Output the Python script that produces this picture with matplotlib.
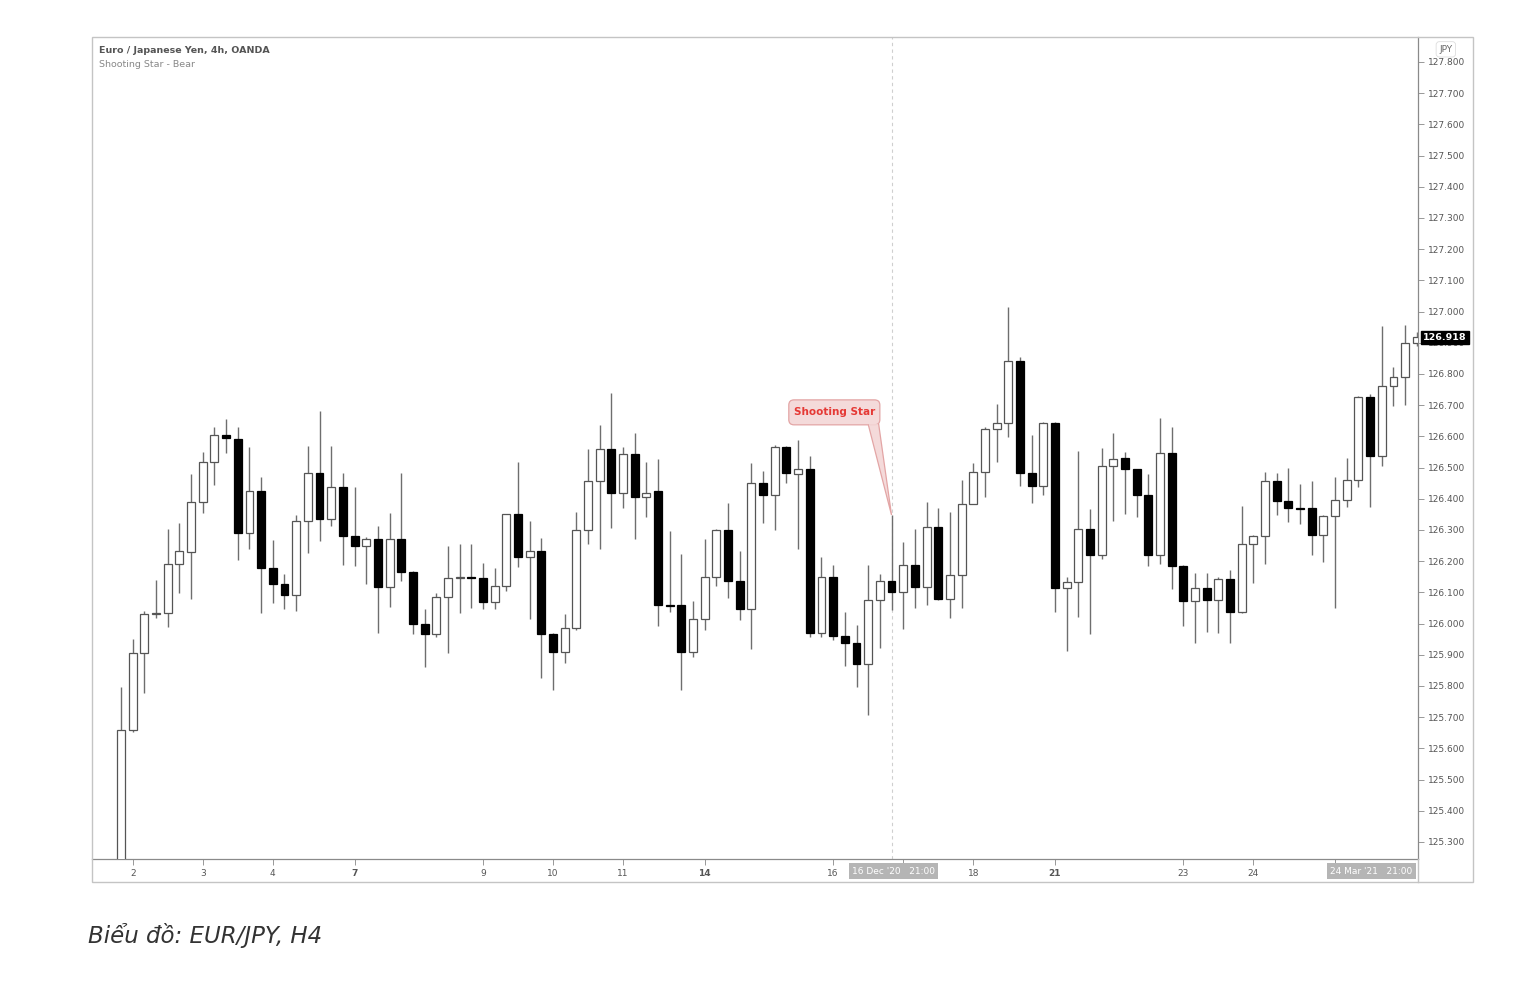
import matplotlib
matplotlib.use("Agg")
import matplotlib.pyplot as plt
import matplotlib.transforms as mtransforms
from matplotlib.patches import Rectangle, FancyBboxPatch, Polygon
import numpy as np

# EUR/JPY 4h candles (open, high, low, close)
opens = [125.20, 125.659, 125.905, 126.030, 126.035, 126.190, 126.230, 126.391, 126.517, 126.605,
         126.592, 126.289, 126.425, 126.179, 126.127, 126.091, 126.328, 126.484, 126.334, 126.437,
         126.282, 126.249, 126.271, 126.118, 126.270, 126.166, 125.999, 125.967, 126.084, 126.145,
         126.150, 126.147, 126.070, 126.121, 126.350, 126.212, 126.234, 125.967, 125.910, 125.985,
         126.300, 126.458, 126.559, 126.418, 126.544, 126.405, 126.425, 126.060, 126.060, 125.910,
         126.015, 126.148, 126.300, 126.137, 126.048, 126.450, 126.412, 126.567, 126.480, 126.495,
         125.971, 126.148, 125.960, 125.937, 125.871, 126.076, 126.137, 126.101, 126.188, 126.116,
         126.309, 126.078, 126.156, 126.383, 126.485, 126.623, 126.644, 126.843, 126.484, 126.442,
         126.642, 126.113, 126.134, 126.302, 126.220, 126.505, 126.530, 126.496, 126.413, 126.221,
         126.548, 126.185, 126.073, 126.113, 126.076, 126.142, 126.038, 126.254, 126.281, 126.458,
         126.393, 126.370, 126.370, 126.284, 126.345, 126.396, 126.460, 126.727, 126.537, 126.762,
         126.789, 126.898]
highs = [125.797, 125.951, 126.041, 126.140, 126.303, 126.323, 126.479, 126.549, 126.629, 126.655,
         126.631, 126.565, 126.469, 126.268, 126.159, 126.348, 126.569, 126.682, 126.569, 126.482,
         126.437, 126.279, 126.313, 126.356, 126.484, 126.170, 126.046, 126.099, 126.249, 126.255,
         126.255, 126.193, 126.179, 126.352, 126.519, 126.329, 126.273, 125.970, 126.030, 126.359,
         126.559, 126.637, 126.740, 126.565, 126.612, 126.519, 126.527, 126.298, 126.222, 126.073,
         126.271, 126.302, 126.388, 126.234, 126.514, 126.490, 126.572, 126.570, 126.588, 126.537,
         126.214, 126.188, 126.038, 125.996, 126.188, 126.159, 126.348, 126.262, 126.302, 126.391,
         126.370, 126.359, 126.460, 126.516, 126.631, 126.704, 127.014, 126.856, 126.604, 126.645,
         126.645, 126.150, 126.554, 126.366, 126.562, 126.612, 126.551, 126.497, 126.479, 126.658,
         126.629, 126.188, 126.163, 126.163, 126.148, 126.172, 126.377, 126.283, 126.487, 126.482,
         126.500, 126.446, 126.458, 126.347, 126.469, 126.530, 126.730, 126.736, 126.954, 126.821,
         126.957, 126.935]
lows = [125.18, 125.653, 125.777, 126.017, 125.990, 126.097, 126.078, 126.353, 126.444, 126.548,
        126.204, 126.239, 126.033, 126.065, 126.046, 126.041, 126.225, 126.266, 126.313, 126.188,
        126.185, 126.126, 125.971, 126.052, 126.137, 125.967, 125.862, 125.956, 125.905, 126.035,
        126.049, 126.046, 126.046, 126.106, 126.182, 126.014, 125.827, 125.787, 125.873, 125.979,
        126.254, 126.238, 126.306, 126.370, 126.270, 126.343, 125.992, 126.036, 125.787, 125.892,
        125.979, 126.121, 126.083, 126.012, 125.918, 126.323, 126.300, 126.452, 126.238, 125.958,
        125.958, 125.947, 125.864, 125.796, 125.707, 125.921, 126.044, 125.982, 126.049, 126.060,
        126.075, 126.017, 126.049, 126.405, 126.405, 126.519, 126.599, 126.441, 126.386, 126.412,
        126.038, 125.913, 126.020, 125.967, 126.206, 126.330, 126.350, 126.341, 126.185, 126.191,
        126.110, 125.992, 125.939, 125.974, 125.971, 125.939, 126.035, 126.129, 126.191, 126.348,
        126.327, 126.319, 126.220, 126.198, 126.049, 126.373, 126.439, 126.373, 126.505, 126.697,
        126.701, 126.890]
closes = [125.659, 125.907, 126.030, 126.035, 126.190, 126.233, 126.391, 126.517, 126.604, 126.594,
          126.289, 126.425, 126.177, 126.127, 126.091, 126.328, 126.484, 126.334, 126.437, 126.281,
          126.249, 126.271, 126.118, 126.270, 126.166, 125.999, 125.967, 126.084, 126.145, 126.150,
          126.148, 126.070, 126.121, 126.350, 126.212, 126.233, 125.967, 125.910, 125.985, 126.300,
          126.458, 126.559, 126.418, 126.544, 126.407, 126.420, 126.060, 126.058, 125.910, 126.015,
          126.148, 126.300, 126.137, 126.048, 126.450, 126.412, 126.567, 126.484, 126.495, 125.971,
          126.148, 125.960, 125.937, 125.871, 126.076, 126.137, 126.101, 126.188, 126.116, 126.309,
          126.078, 126.156, 126.383, 126.485, 126.623, 126.644, 126.843, 126.484, 126.442, 126.642,
          126.113, 126.134, 126.302, 126.220, 126.505, 126.529, 126.496, 126.413, 126.221, 126.548,
          126.185, 126.073, 126.113, 126.076, 126.142, 126.038, 126.254, 126.281, 126.458, 126.393,
          126.370, 126.368, 126.284, 126.345, 126.396, 126.460, 126.727, 126.537, 126.762, 126.789,
          126.898, 126.918]

day_ticks = [1, 7, 13, 20, 31, 37, 43, 50, 61, 67, 73, 80, 91, 97, 104]
day_labels = ["2", "3", "4", "7", "9", "10", "11", "14", "16", "17", "18", "21", "23", "24", "25"]
bold_days = ["7", "14", "21"]
price_ticks = np.round(np.arange(125.3, 127.81, 0.1), 1)

star_idx = 66
last_price = 126.918

W, H = 1522, 996
fig = plt.figure(figsize=(W / 100, H / 100), dpi=100)
fig.patch.set_facecolor("white")

# main pane: x 92..1418, y 37..859 px
ax = fig.add_axes([92 / W, 1 - 859 / H, (1418 - 92) / W, (859 - 37) / H])
ax.set_facecolor("white")

x = np.arange(len(opens))
o = np.array(opens)
c = np.array(closes)
up = c >= o

ax.vlines(x, lows, highs, color="#6e6e6e", lw=1.0, zorder=2)
body = np.where(np.abs(c - o) < 0.004, 0.004 * np.where(up, 1, -1), c - o)
ax.bar(x[up], body[up], bottom=o[up], width=0.68, facecolor="white",
       edgecolor="#555555", linewidth=0.9, zorder=3)
ax.bar(x[~up], body[~up], bottom=o[~up], width=0.68, facecolor="black",
       edgecolor="black", linewidth=0.9, zorder=3)

ax.set_xlim(-2.49, 111.1)
ax.set_ylim(125.2455, 127.880)

# crosshair at the shooting star
ax.axvline(star_idx, color="#cfcfcf", lw=0.8, ls=(0, (3, 3)), zorder=1)

# right price scale
ax.yaxis.tick_right()
ax.set_yticks(price_ticks)
ax.set_yticklabels([f"{p:.3f}" for p in price_ticks])
ax.tick_params(axis="y", length=4, width=0.6, color="#888888", labelsize=6.5,
               labelcolor="#555555", pad=3)

# time scale
ax.set_xticks(day_ticks)
ax.set_xticklabels(day_labels)
for lbl in ax.get_xticklabels():
    if lbl.get_text() in bold_days:
        lbl.set_fontweight("bold")
        lbl.set_color("#333333")
ax.tick_params(axis="x", length=4, width=0.6, color="#888888", labelsize=6.5,
               labelcolor="#555555", pad=3)

for side in ["top", "left"]:
    ax.spines[side].set_visible(False)
for side in ["right", "bottom"]:
    ax.spines[side].set_color("#8a8a8a")
    ax.spines[side].set_linewidth(0.9)

# outer frame of the chart
fig.add_artist(Rectangle((92 / W, 1 - 882 / H), (1473 - 92) / W, (882 - 37) / H,
                         transform=fig.transFigure, fill=False,
                         edgecolor="#c4c4c4", lw=1.0))
fig.add_artist(plt.Line2D([1418 / W, 1418 / W], [1 - 882 / H, 1 - 859 / H],
                          transform=fig.transFigure, color="#c4c4c4", lw=1.0))

# headings
ax.text(0.005, 0.983, "Euro / Japanese Yen, 4h, OANDA", transform=ax.transAxes,
        fontsize=6.8, fontweight="bold", color="#555555", va="center", ha="left")
ax.text(0.005, 0.966, "Shooting Star - Bear", transform=ax.transAxes,
        fontsize=6.8, color="#888888", va="center", ha="left")

# currency tag
ax.text(1.021, 0.985, "JPY", transform=ax.transAxes, fontsize=6.5, color="#666666",
        ha="center", va="center",
        bbox=dict(boxstyle="round,pad=0.35", fc="white", ec="#dddddd", lw=0.6))

# last price tag
ax.text(1.004, last_price, f"{last_price:.3f}",
        transform=mtransforms.blended_transform_factory(ax.transAxes, ax.transData),
        fontsize=6.8, fontweight="bold", color="white", ha="left", va="center",
        bbox=dict(boxstyle="square,pad=0.2", fc="black", ec="black"), clip_on=False)

# time-scale labels for crosshair
bt = mtransforms.blended_transform_factory(ax.transData, ax.transAxes)
ax.text(star_idx + 0.15, -0.0146, "16 Dec '20   21:00", transform=bt, fontsize=6.5,
        color="white", ha="center", va="center", zorder=5,
        bbox=dict(boxstyle="square,pad=0.35", fc="#b5b5b5", ec="none"), clip_on=False)
ax.text(107.1, -0.0146, "24 Mar '21   21:00", transform=bt, fontsize=6.5,
        color="white", ha="center", va="center", zorder=5,
        bbox=dict(boxstyle="square,pad=0.35", fc="#b5b5b5", ec="none"), clip_on=False)

# "Shooting Star" callout
bx0, bx1 = 57.2, 65.0
by0, by1 = 126.637, 126.717
tail = Polygon([[64.0, by0 + 0.002], [64.9, by0 + 0.002], [star_idx, highs[star_idx]]],
               closed=True, facecolor="#f4dada", edgecolor="#e3a5a5", lw=0.9, zorder=6)
ax.add_patch(tail)
box = FancyBboxPatch((bx0, by0), bx1 - bx0, by1 - by0,
                     boxstyle="round,pad=0,rounding_size=0.45",
                     mutation_aspect=0.0374, facecolor="#f4dada", edgecolor="#e3a5a5",
                     lw=0.9, zorder=7)
ax.add_patch(box)
ax.plot([64.05, 64.85], [by0, by0], color="#f4dada", lw=1.2, zorder=8,
        solid_capstyle="butt")
ax.text((bx0 + bx1) / 2, (by0 + by1) / 2, "Shooting Star", fontsize=7.5,
        fontweight="bold", color="#e53935", ha="center", va="center", zorder=8)

# caption below the chart
fig.text(88 / W, 1 - 935 / H, "Biểu đồ: EUR/JPY, H4", fontsize=16.5, style="italic",
         color="#333333", ha="left", va="center", family=["DejaVu Sans"])

fig.savefig("out.png", dpi=100)
